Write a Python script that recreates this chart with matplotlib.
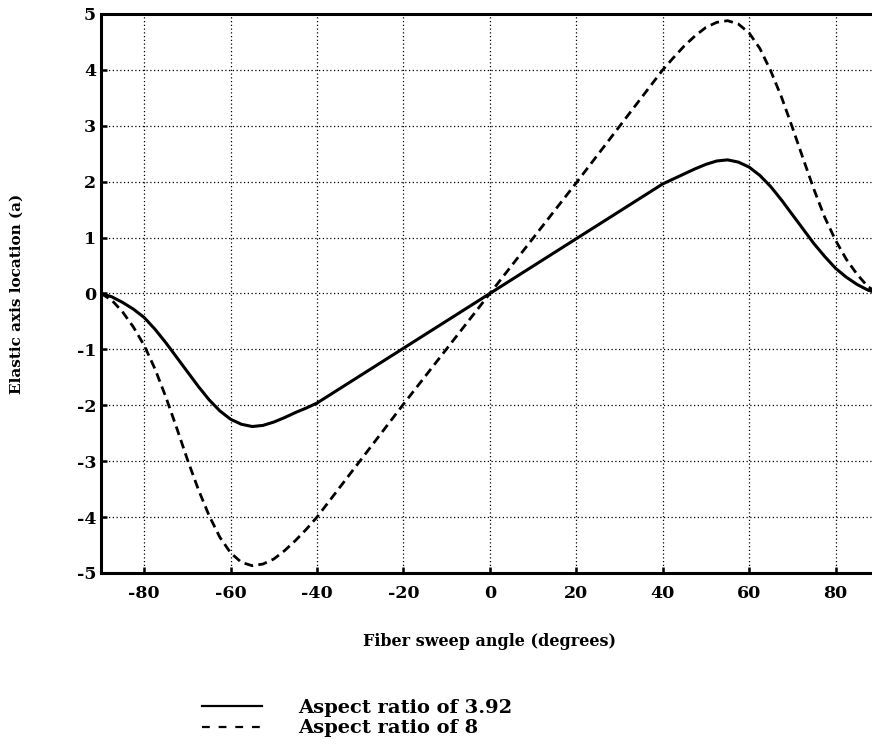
import matplotlib
matplotlib.use("Agg")
import matplotlib.pyplot as plt
from matplotlib.lines import Line2D

# Fiber sweep angle (degrees)
angle = [-90, -87.5, -85, -82.5, -80, -77.5, -75, -72.5, -70, -67.5, -65, -62.5,
         -60, -57.5, -55, -52.5, -50, -47.5, -45, -42.5, -40, -30, -20, -10,
         0, 10, 20, 30, 40, 42.5, 45, 47.5, 50, 52.5, 55, 57.5, 60, 62.5, 65,
         67.5, 70, 72.5, 75, 77.5, 80, 82.5, 85, 87.5, 90]

# Elastic axis location, aspect ratio 3.92
ea_392 = [0.0, -0.06, -0.16, -0.28, -0.43, -0.64, -0.88, -1.14, -1.40, -1.66,
          -1.90, -2.10, -2.25, -2.34, -2.38, -2.36, -2.30, -2.22, -2.13, -2.05,
          -1.96, -1.47, -0.98, -0.49,
          0.0, 0.49, 0.98, 1.47, 1.96, 2.05, 2.14, 2.23, 2.31, 2.37, 2.39, 2.35,
          2.26, 2.11, 1.91, 1.67, 1.41, 1.15, 0.89, 0.66, 0.45, 0.29, 0.16,
          0.06, 0.0]

# Elastic axis location, aspect ratio 8
ea_8 = [0.0, -0.12, -0.33, -0.60, -0.93, -1.35, -1.85, -2.40, -2.97, -3.50,
        -3.97, -4.36, -4.64, -4.81, -4.87, -4.84, -4.75, -4.60, -4.42, -4.22,
        -4.00, -2.99, -1.98, -0.99,
        0.0, 0.99, 1.98, 2.99, 4.00, 4.22, 4.43, 4.61, 4.76, 4.85, 4.88, 4.82,
        4.66, 4.38, 3.98, 3.51, 2.97, 2.41, 1.86, 1.36, 0.95, 0.61, 0.34,
        0.12, 0.0]

x_ticks = [-80, -60, -40, -20, 0, 20, 40, 60, 80]
y_ticks = [-5, -4, -3, -2, -1, 0, 1, 2, 3, 4, 5]
labels = ["Aspect ratio of 3.92", "Aspect ratio of 8"]

plt.rcParams['font.family'] = ['DejaVu Serif']
plt.rcParams['font.weight'] = 'bold'
plt.rcParams['axes.unicode_minus'] = False

fig = plt.figure(figsize=(8.72, 7.55), dpi=100)
ax = fig.add_axes([0.1158, 0.2411, 0.892, 0.7404])

ax.plot(angle, ea_392, color='black', lw=2.2, solid_capstyle='butt', zorder=3)
ax.plot(angle, ea_8, color='black', lw=2.0, linestyle=(0, (3.2, 1.9)), zorder=3)

ax.set_xlim(-90, 90)
ax.set_ylim(-5, 5)
ax.set_xticks(x_ticks)
ax.set_yticks(y_ticks)
ax.grid(True, color='black', linestyle=(0, (1, 2)), linewidth=0.9)
ax.set_axisbelow(True)

ax.tick_params(axis='x', direction='in', length=4, width=1.8, pad=8.5,
               labelsize=12.5)
ax.tick_params(axis='y', direction='in', length=4, width=1.8, pad=3.5,
               labelsize=12.5)
for lab in ax.get_xticklabels() + ax.get_yticklabels():
    lab.set_fontweight('bold')

for side in ['left', 'bottom', 'top', 'right']:
    ax.spines[side].set_linewidth(2.2)

ax.set_xlabel("Fiber sweep angle (degrees)", fontsize=11.5, fontweight='bold',
              va='top')
ax.xaxis.set_label_coords(0.5, -0.107)
ax.set_ylabel("Elastic axis location (a)", fontsize=11, fontweight='bold',
              va='center')
ax.yaxis.set_label_coords(-0.108, 0.5)

handles = [Line2D([], [], color='black', lw=1.6),
           Line2D([], [], color='black', lw=1.6, linestyle=(0, (3.5, 4.0)))]
fig.legend(handles, labels, loc='upper left',
           bbox_to_anchor=(0.2317, 0.074), bbox_transform=fig.transFigure,
           frameon=False, prop={'weight': 'bold', 'size': 14},
           handlelength=3.1, handletextpad=1.85, labelspacing=0.12,
           borderpad=0, borderaxespad=0)

fig.savefig("out.png", dpi=100)
